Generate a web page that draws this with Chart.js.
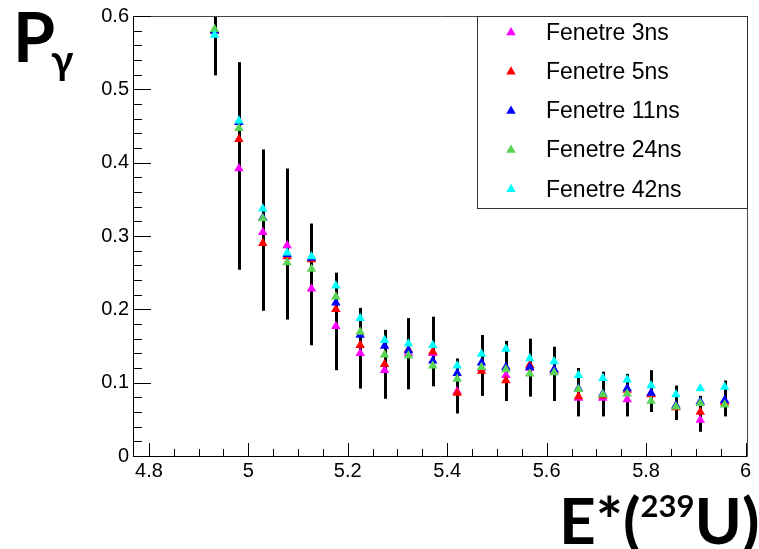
<!DOCTYPE html>
<html>
<head>
<meta charset="utf-8">
<title>P gamma vs E*(239U)</title>
<script src="https://cdn.jsdelivr.net/npm/chart.js@4.4.0/dist/chart.umd.min.js"></script>
<style>
    html, body { margin: 0; padding: 0; background: #fff; }
    #wrap { width: 759px; height: 549px; }
</style>
</head>
<body>
<div id="wrap"><canvas id="pgChart" width="759" height="549"></canvas></div>
<script>
// Excitation energy bins (MeV)
const energies = [4.932, 4.981, 5.029, 5.078, 5.127, 5.176, 5.225, 5.274, 5.322, 5.371, 5.420,
    5.469, 5.518, 5.566, 5.615, 5.664, 5.713, 5.762, 5.810, 5.860, 5.909, 5.958];

// P gamma for each coincidence window
const fen3ns = [0.580, 0.392, 0.305, 0.287, 0.228, 0.177, 0.140, 0.117, 0.140, 0.140, 0.088,
    0.120, 0.110, 0.120, 0.115, 0.079, 0.079, 0.077, 0.085, 0.068, 0.049, 0.075];
const fen5ns = [0.580, 0.432, 0.290, 0.272, 0.268, 0.200, 0.151, 0.125, 0.145, 0.142, 0.086,
    0.116, 0.103, 0.124, 0.117, 0.081, 0.082, 0.090, 0.084, 0.066, 0.060, 0.073];
const fen11ns = [0.580, 0.455, 0.325, 0.275, 0.270, 0.209, 0.165, 0.150, 0.144, 0.130, 0.113,
    0.127, 0.121, 0.121, 0.118, 0.092, 0.085, 0.092, 0.086, 0.069, 0.074, 0.076];
const fen24ns = [0.582, 0.447, 0.324, 0.264, 0.255, 0.217, 0.169, 0.138, 0.137, 0.123, 0.105,
    0.121, 0.118, 0.112, 0.114, 0.091, 0.084, 0.085, 0.075, 0.067, 0.072, 0.070];
const fen42ns = [0.574, 0.457, 0.337, 0.277, 0.272, 0.232, 0.188, 0.158, 0.153, 0.151, 0.123,
    0.139, 0.146, 0.133, 0.129, 0.110, 0.106, 0.104, 0.096, 0.084, 0.092, 0.094];

// Error bar ends (3ns window)
const errTop = [0.645, 0.537, 0.418, 0.392, 0.317, 0.250, 0.202, 0.172, 0.188, 0.190, 0.133,
    0.165, 0.157, 0.160, 0.149, 0.120, 0.115, 0.112, 0.117, 0.096, 0.082, 0.103];
const errBottom = [0.519, 0.254, 0.198, 0.186, 0.151, 0.117, 0.092, 0.078, 0.091, 0.095, 0.058,
    0.082, 0.075, 0.081, 0.075, 0.054, 0.054, 0.054, 0.060, 0.049, 0.033, 0.054];

const seriesNames = ["Fenetre 3ns", "Fenetre 5ns", "Fenetre 11ns", "Fenetre 24ns", "Fenetre 42ns"];
const seriesColors = ["#ff00ff", "#ff0000", "#0000ff", "#59d454", "#00ffff"];
const seriesValues = [fen3ns, fen5ns, fen11ns, fen24ns, fen42ns];

// Tick labels
const xTickValues = [4.8, 5, 5.2, 5.4, 5.6, 5.8, 6];
const yTickValues = [0, 0.1, 0.2, 0.3, 0.4, 0.5, 0.6];

const labelFont = "'Liberation Sans', Arial, sans-serif";
const titleFont = "Lato, 'Open Sans', sans-serif";

function triangle(ctx, cx, cy, r, color) {
    ctx.fillStyle = color;
    ctx.beginPath();
    ctx.moveTo(cx, cy - r);
    ctx.lineTo(cx + r * 0.866, cy + r / 2);
    ctx.lineTo(cx - r * 0.866, cy + r / 2);
    ctx.closePath();
    ctx.fill();
}

// ROOT-like frame: error bars, inner ticks, legend box and big axis titles
const rootFrame = {
    id: 'rootFrame',
    beforeDatasetsDraw(chart) {
        const { ctx, chartArea: a, scales: { x, y } } = chart;
        ctx.save();
        ctx.beginPath();
        ctx.rect(a.left, a.top, a.right - a.left, a.bottom - a.top);
        ctx.clip();
        ctx.strokeStyle = '#000';
        ctx.lineWidth = 3;
        energies.forEach((e, i) => {
            const px = Math.round(x.getPixelForValue(e)) + 0.5;
            ctx.beginPath();
            ctx.moveTo(px, y.getPixelForValue(errTop[i]));
            ctx.lineTo(px, y.getPixelForValue(errBottom[i]));
            ctx.stroke();
        });
        ctx.restore();
    },
    afterDraw(chart) {
        const { ctx, chartArea: a, scales: { x, y } } = chart;
        ctx.save();

        // frame
        ctx.lineWidth = 1;
        ctx.strokeStyle = '#444';
        ctx.beginPath();
        ctx.moveTo(a.left, a.top + 0.5);
        ctx.lineTo(a.right + 0.5, a.top + 0.5);
        ctx.lineTo(a.right + 0.5, a.bottom);
        ctx.stroke();
        ctx.strokeStyle = '#000';
        ctx.beginPath();
        ctx.moveTo(a.left + 0.5, a.top);
        ctx.lineTo(a.left + 0.5, a.bottom + 0.5);
        ctx.lineTo(a.right + 0.5, a.bottom + 0.5);
        ctx.stroke();

        // x ticks (inside)
        ctx.beginPath();
        for (let k = 0; k <= 24; k++) {
            const v = 4.8 + k * 0.05;
            const px = Math.round(x.getPixelForValue(v)) + 0.5;
            const len = (k % 4 === 0) ? 13 : 7;
            ctx.moveTo(px, a.bottom);
            ctx.lineTo(px, a.bottom - len);
        }
        // y ticks (inside)
        for (let k = 0; k <= 30; k++) {
            const v = k * 0.02;
            const py = Math.round(y.getPixelForValue(v)) + 0.5;
            const len = (k % 5 === 0) ? 18 : 9;
            ctx.moveTo(a.left, py);
            ctx.lineTo(a.left + len, py);
        }
        ctx.stroke();

        // legend
        ctx.fillStyle = '#fff';
        ctx.fillRect(477, a.top, a.right - 477, 208 - a.top);
        ctx.strokeStyle = '#333';
        ctx.strokeRect(477.5, a.top + 0.5, a.right - 477, 208 - a.top);
        ctx.font = "23px " + labelFont;
        ctx.textBaseline = 'middle';
        ctx.textAlign = 'left';
        seriesNames.forEach((name, i) => {
            const rowY = 32.5 + i * 39.2;
            triangle(ctx, 511, rowY, 5.5, seriesColors[i]);
            ctx.fillStyle = '#000';
            ctx.fillText(name, 546, rowY + 1);
        });

        // axis titles
        ctx.fillStyle = '#000';
        ctx.textBaseline = 'alphabetic';
        ctx.font = "bold 68px " + titleFont;
        ctx.fillText("P", 13, 62);
        ctx.font = "bold 40px " + titleFont;
        ctx.fillText("γ", 51, 74);

        let tx = 559;
        ctx.font = "bold 64px " + titleFont;
        ctx.fillText("E*(", tx, 544);
        tx += ctx.measureText("E*(").width;
        ctx.font = "bold 31px " + titleFont;
        ctx.fillText("239", tx, 517);
        tx += ctx.measureText("239").width;
        ctx.font = "bold 64px " + titleFont;
        ctx.fillText("U)", tx, 544);

        ctx.restore();
    }
};

const datasets = seriesValues.map((vals, i) => ({
    label: seriesNames[i],
    data: energies.map((e, j) => ({ x: e, y: vals[j] })),
    backgroundColor: seriesColors[i],
    borderColor: seriesColors[i],
    pointStyle: 'triangle',
    pointRadius: 5.5,
    pointBorderWidth: 0,
    showLine: false,
    order: 4 - i, // last window drawn on top
}));

const ctx = document.getElementById('pgChart').getContext('2d');
const pgChart = new Chart(ctx, {
    type: 'scatter',
    data: { datasets: datasets },
    options: {
        responsive: false,
        animation: false,
        devicePixelRatio: 1,
        layout: { padding: { top: 13, right: 12, left: 0, bottom: 0 } },
        plugins: {
            legend: { display: false },
            tooltip: { enabled: false },
        },
        scales: {
            x: {
                type: 'linear',
                min: 4.768,
                max: 6.003,
                grid: { display: false, drawTicks: false },
                border: { display: false },
                afterBuildTicks: (s) => { s.ticks = xTickValues.map(v => ({ value: v })); },
                afterFit: (s) => { s.height = 93; },
                ticks: {
                    color: '#000',
                    padding: 3,
                    maxRotation: 0,
                    autoSkip: false,
                    font: { size: 20, family: labelFont },
                    callback: (v) => String(v),
                },
            },
            y: {
                type: 'linear',
                min: 0,
                max: 0.6,
                grid: { display: false, drawTicks: false },
                border: { display: false },
                afterBuildTicks: (s) => { s.ticks = yTickValues.map(v => ({ value: v })); },
                afterFit: (s) => { s.width = 133; },
                ticks: {
                    color: '#000',
                    padding: 4,
                    autoSkip: false,
                    font: { size: 20, family: labelFont },
                    callback: (v) => String(v),
                },
            },
        },
    },
    plugins: [rootFrame],
});
</script>
</body>
</html>
